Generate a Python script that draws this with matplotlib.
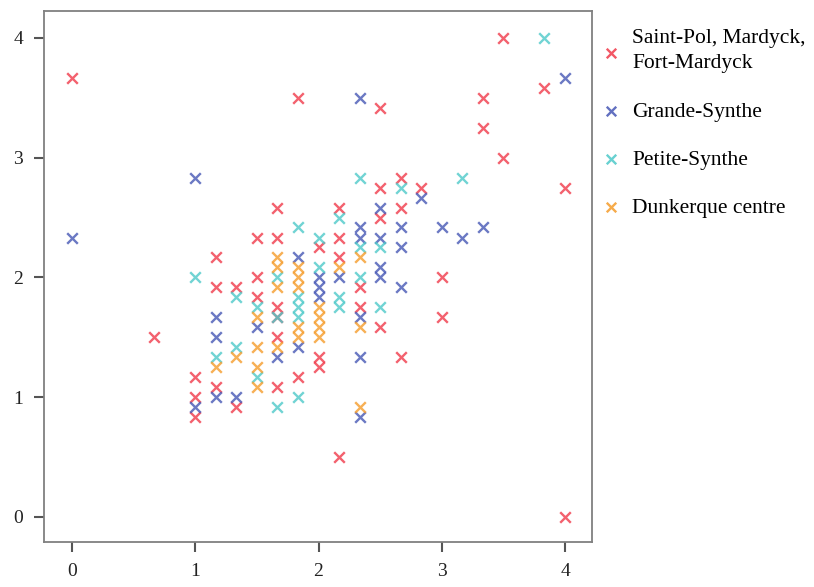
import numpy as np
import matplotlib
matplotlib.use("Agg")
import matplotlib.pyplot as plt

plt.rcParams['font.family'] = ['Liberation Serif', 'DejaVu Serif']

# Saint-Pol, Mardyck, Fort-Mardyck
red_x = [0, 0.667, 1, 1, 1, 1.167, 1.167, 1.167, 1.333, 1.333,
         1.5, 1.5, 1.5, 1.667, 1.667, 1.667, 1.667, 1.667, 1.667,
         1.833, 1.833, 2, 2, 2, 2.167, 2.167, 2.167, 2.167,
         2.333, 2.333, 2.5, 2.5, 2.5, 2.5, 2.667, 2.667, 2.667,
         2.833, 3, 3, 3.333, 3.333, 3.5, 3.5, 3.833, 4, 4]
red_y = [3.667, 1.5, 1.167, 1.0, 0.833, 2.167, 1.917, 1.083, 1.917, 0.917,
         2.333, 2.0, 1.833, 2.583, 2.333, 1.75, 1.667, 1.5, 1.083,
         3.5, 1.167, 2.25, 1.333, 1.25, 2.583, 2.333, 2.167, 0.5,
         1.917, 1.75, 3.417, 2.75, 2.5, 1.583, 2.833, 2.583, 1.333,
         2.75, 2.0, 1.667, 3.5, 3.25, 4.0, 3.0, 3.583, 2.75, 0.0]

# Grande-Synthe
blue_x = [0, 1, 1, 1.167, 1.167, 1.167, 1.333, 1.5, 1.667, 1.833, 1.833,
          2, 2, 2, 2.167, 2.333, 2.333, 2.333, 2.333, 2.333, 2.333,
          2.5, 2.5, 2.5, 2.5, 2.667, 2.667, 2.667, 2.833, 3, 3.167, 3.333, 4]
blue_y = [2.333, 2.833, 0.917, 1.667, 1.5, 1.0, 1.0, 1.583, 1.333, 2.167, 1.417,
          2.0, 1.917, 1.833, 2.0, 3.5, 2.417, 2.333, 1.667, 1.333, 0.833,
          2.583, 2.333, 2.083, 2.0, 2.417, 2.25, 1.917, 2.667, 2.417, 2.333, 2.417, 3.667]

# Petite-Synthe
cyan_x = [1, 1.167, 1.333, 1.333, 1.5, 1.5, 1.667, 1.667, 1.667,
          1.833, 1.833, 1.833, 1.833, 1.833, 2, 2, 2.167, 2.167, 2.167,
          2.333, 2.333, 2.333, 2.5, 2.5, 2.667, 3.167, 3.833]
cyan_y = [2.0, 1.333, 1.833, 1.417, 1.75, 1.167, 2.0, 1.667, 0.917,
          2.417, 1.833, 1.75, 1.667, 1.0, 2.333, 2.083, 2.5, 1.833, 1.75,
          2.833, 2.25, 2.0, 2.25, 1.75, 2.75, 2.833, 4.0]

# Dunkerque centre
orange_x = [1.167, 1.333, 1.5, 1.5, 1.5, 1.5, 1.667, 1.667, 1.667, 1.667,
            1.833, 1.833, 1.833, 1.833, 1.833, 2, 2, 2, 2, 2.167,
            2.333, 2.333, 2.333]
orange_y = [1.25, 1.333, 1.667, 1.417, 1.25, 1.083, 2.167, 2.083, 1.917, 1.417,
            2.083, 2.0, 1.917, 1.583, 1.5, 1.75, 1.667, 1.583, 1.5, 2.083,
            2.167, 1.583, 0.917]

labels = ['Saint-Pol, Mardyck,\nFort-Mardyck', 'Grande-Synthe', 'Petite-Synthe', 'Dunkerque centre']
colors = ['#f03a4a', '#4657b5', '#4ec9c9', '#f59c2a']
series = [(red_x, red_y), (blue_x, blue_y), (cyan_x, cyan_y), (orange_x, orange_y)]

fig = plt.figure(figsize=(8.14, 5.87), dpi=100)
ax = fig.add_axes([0.0541, 0.0767, 0.6732, 0.9046])

for (xs, ys), c, lab in zip(series, colors, labels):
    ax.scatter(xs, ys, marker='x', s=58, color=c, alpha=0.8, linewidths=1.7, label=lab)

ax.set_xlim(-0.227, 4.219)
ax.set_ylim(-0.209, 4.225)
ax.set_xticks([0, 1, 2, 3, 4])
ax.set_yticks([0, 1, 2, 3, 4])
for s in ax.spines.values():
    s.set_color('#808080')
    s.set_linewidth(1.3)
ax.tick_params(axis='both', labelsize=14, length=7, width=1.5, color='#555555',
               labelcolor='#222222', pad=8)

leg = ax.legend(loc='upper left', bbox_to_anchor=(1.0, 0.982), frameon=False,
                fontsize=15.5, labelspacing=1.3, handlelength=1.0, handletextpad=0.48,
                markerscale=0.9, borderaxespad=0.0)
for t in leg.get_texts():
    t.set_linespacing(1.45)
for h in leg.legend_handles:
    h.set_alpha(0.85)

plt.savefig('out.png', dpi=100)
